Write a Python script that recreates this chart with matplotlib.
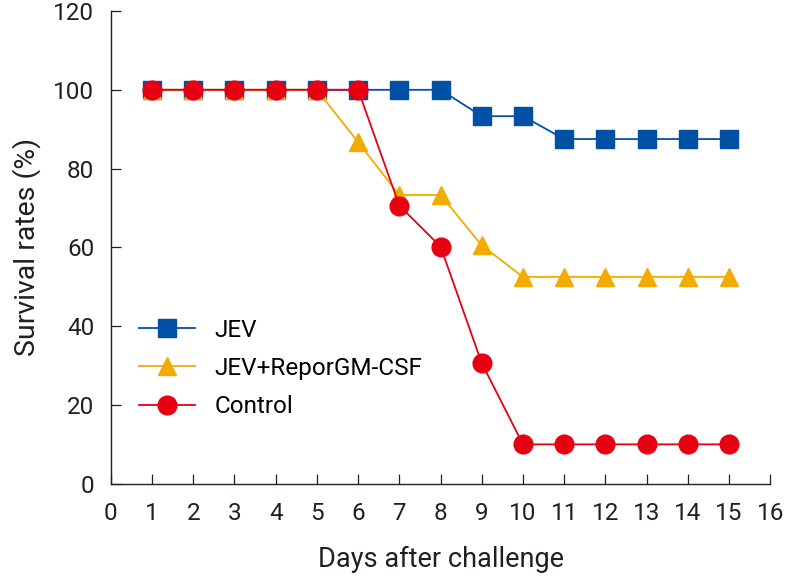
import matplotlib
matplotlib.use("Agg")
import matplotlib.pyplot as plt

plt.rcParams['font.family'] = ['Roboto', 'DejaVu Sans']

days = list(range(1, 16))
jev = [100, 100, 100, 100, 100, 100, 100, 100, 93.3, 93.3, 87.5, 87.5, 87.5, 87.5, 87.5]
jev_gm = [100, 100, 100, 100, 100, 86.7, 73.3, 73.3, 60.5, 52.5, 52.5, 52.5, 52.5, 52.5, 52.5]
control = [100, 100, 100, 100, 100, 100, 70.6, 60.2, 30.6, 10, 10, 10, 10, 10, 10]

fig = plt.figure(figsize=(7.86, 5.8), dpi=100)
ax = fig.add_axes([0.141, 0.166, 0.839, 0.815])

ax.plot(days, jev, color='#0050a5', marker='s', markersize=12.5, lw=1.3, label='JEV', zorder=3)
ax.plot(days, jev_gm, color='#f2ac00', marker='^', markersize=13.5, lw=1.3, label='JEV+ReporGM-CSF', zorder=4)
ax.plot(days, control, color='#e60012', marker='o', markersize=13.5, lw=1.3, label='Control', zorder=5)

ax.set_xlim(0, 16)
ax.set_ylim(0, 120)
ax.set_xticks(range(0, 17))
ax.set_yticks(range(0, 121, 20))
ax.tick_params(direction='in', length=7, width=0.9, labelsize=17.5, colors='#231f20')
ax.tick_params(axis='x', pad=13)
ax.tick_params(axis='y', pad=12)
for s in ['top', 'right']:
    ax.spines[s].set_visible(False)
for s in ['left', 'bottom']:
    ax.spines[s].set_linewidth(1.0)
    ax.spines[s].set_color('#231f20')

ax.set_xlabel('Days after challenge', fontsize=19.5, labelpad=15, color='#231f20')
ax.set_ylabel('Survival rates (%)', fontsize=20.5, labelpad=9, color='#231f20')

leg = ax.legend(loc='upper left', bbox_to_anchor=(0.01, 0.395), frameon=False, fontsize=17.5,
                handlelength=2.3, labelspacing=0.62, handletextpad=0.8)

fig.savefig('out.png', dpi=100)
